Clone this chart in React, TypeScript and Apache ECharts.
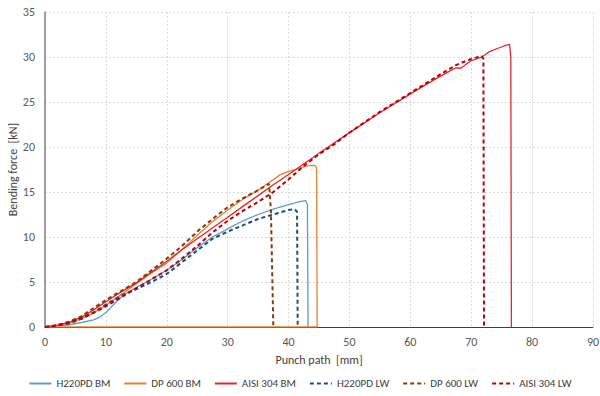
import React, { useEffect, useRef } from "react";
import * as echarts from "echarts";

// Punch path [mm] / bending force [kN] pairs
const h220pdBM: [number, number][] = [
  [0, 0], [2, 0.1], [4, 0.25], [6, 0.5], [8, 0.8], [9, 1.1], [10, 1.6], [11, 2.3], [12, 3.0],
  [13, 3.6], [15, 4.4], [17.5, 5.3], [20, 6.3], [22.5, 7.5], [25, 8.8], [27.5, 10.0], [30, 10.9],
  [32.5, 11.8], [35, 12.5], [37.5, 13.1], [40, 13.6], [42, 13.95], [42.8, 14.05], [43.1, 13.6], [43.2, 0],
];
const dp600BM: [number, number][] = [
  [0, 0], [2, 0.15], [4, 0.45], [6, 0.9], [8, 1.6], [10, 2.4], [12.5, 3.6], [15, 4.8], [17.5, 6.0],
  [20, 7.1], [22.5, 8.6], [25, 10.2], [27.5, 11.7], [30, 13.0], [32.5, 14.2], [35, 15.2], [36.7, 16.0],
  [38.6, 16.9], [40, 17.3], [41.7, 17.6], [43, 17.9], [44.3, 17.95], [44.6, 17.7], [44.7, 0], [0, 0],
];
const aisi304BM: [number, number][] = [
  [0, 0], [2, 0.2], [4, 0.55], [6, 1.1], [8, 1.9], [10, 2.8], [12.5, 3.9], [15, 4.9], [17.5, 6.1],
  [20, 7.3], [22.5, 8.6], [25, 9.8], [27.5, 11.0], [30, 12.2], [32.5, 13.4], [35, 14.6], [37.5, 15.8],
  [40, 16.95], [45, 19.3], [50, 21.6], [55, 23.8], [60, 25.9], [65, 27.9], [67.5, 28.8], [68.3, 28.75],
  [70, 29.6], [71.8, 30.0], [73, 30.6], [74.5, 31.0], [75.9, 31.35], [76.3, 31.4], [76.5, 30.0], [76.6, 0],
];
const h220pdLW: [number, number][] = [
  [0, 0], [2, 0.15], [4, 0.4], [6, 0.9], [8, 1.6], [10, 2.5], [12.5, 3.5], [15, 4.2], [17.5, 5.0],
  [20, 5.9], [22.5, 7.2], [25, 8.5], [27.5, 9.8], [30, 10.6], [32.5, 11.3], [35, 12.0], [37.5, 12.5],
  [40, 13.0], [41.0, 13.1], [41.4, 12.8], [41.5, 0],
];
const dp600LW: [number, number][] = [
  [0, 0], [2, 0.2], [4, 0.6], [6, 1.2], [8, 2.1], [10, 3.0], [12.5, 4.0], [15, 5.0], [17.5, 6.3],
  [20, 7.6], [22.5, 9.0], [25, 10.6], [27.5, 12.0], [30, 13.3], [32.5, 14.3], [35, 15.2], [36.8, 15.9],
  [37.1, 13.0], [37.5, 0],
];
const aisi304LW: [number, number][] = [
  [0, 0], [2, 0.2], [4, 0.5], [6, 1.0], [8, 1.6], [10, 2.3], [12.5, 3.3], [15, 4.3], [17.5, 5.3],
  [20, 6.3], [22.5, 7.6], [25, 9.0], [27.5, 10.5], [30, 11.8], [32.5, 12.9], [35, 13.9], [37.5, 15.0],
  [40, 16.4], [42.5, 17.9], [45, 19.2], [47.5, 20.3], [50, 21.6], [55, 23.9], [60, 26.0], [65, 28.1],
  [67.5, 29.1], [70, 29.8], [71.7, 30.1], [72.0, 29.8], [72.1, 0],
];

const seriesNames = ["H220PD BM", "DP 600 BM", "AISI 304 BM", "H220PD LW", "DP 600 LW", "AISI 304 LW"];
const seriesData = [h220pdBM, dp600BM, aisi304BM, h220pdLW, dp600LW, aisi304LW];
const seriesColors = ["#5B9BD5", "#ED7D31", "#E3262B", "#1F4E79", "#843C0C", "#C00000"];
const dashed = [false, false, false, true, true, true];

const FONT = "Carlito, Calibri, 'Liberation Sans', sans-serif";

export default function App() {
  const ref = useRef<HTMLDivElement>(null);
  useEffect(() => {
    if (!ref.current) return;
    const chart = echarts.init(ref.current, undefined, { renderer: "svg" });
    chart.setOption({
      animation: false,
      backgroundColor: "#ffffff",
      grid: { left: 45, right: 7, top: 12, bottom: 69, outerBoundsMode: "none", containLabel: false },
      xAxis: {
        type: "value",
        min: 0,
        max: 90,
        interval: 10,
        name: "Punch path  [mm]",
        nameLocation: "middle",
        nameGap: 27,
        nameMoveOverlap: false,
        nameTextStyle: { color: "#404040", fontSize: 12, fontFamily: FONT },
        axisLine: { show: true, onZero: false, lineStyle: { color: "#404040", width: 1 } },
        axisTick: { show: false },
        axisLabel: { color: "#595959", fontSize: 12, fontFamily: FONT, margin: 9 },
        splitLine: { show: true, lineStyle: { color: "#d9d9d9", type: [2, 2], width: 1 } },
      },
      yAxis: {
        type: "value",
        min: 0,
        max: 35,
        interval: 5,
        name: "Bending force  [kN]",
        nameLocation: "middle",
        nameGap: 26,
        nameMoveOverlap: false,
        nameTextStyle: { color: "#404040", fontSize: 12, fontFamily: FONT },
        axisLine: { show: true, lineStyle: { color: "#808080", width: 1.5 } },
        axisTick: { show: false },
        axisLabel: { color: "#595959", fontSize: 12, fontFamily: FONT, margin: 10 },
        splitLine: { show: true, lineStyle: { color: "#d9d9d9", type: [2, 2], width: 1 } },
      },
      legend: {
        top: 373,
        left: "center",
        itemWidth: 22,
        itemHeight: 10,
        itemGap: 13,
        itemStyle: { opacity: 0 },
        textStyle: { color: "#404040", fontSize: 11, fontFamily: FONT },
        data: seriesNames,
      },
      series: seriesNames.map((name, i) => ({
        name,
        type: "line",
        data: seriesData[i],
        symbol: "none",
        showSymbol: false,
        smooth: false,
        color: seriesColors[i],
        lineStyle: {
          color: seriesColors[i],
          width: dashed[i] ? 2 : 1.3,
          type: dashed[i] ? [4, 3] : "solid",
        },
        z: 2 + i,
      })),
    });
    return () => chart.dispose();
  }, []);
  return <div ref={ref} style={{ width: 600, height: 396, position: "absolute", left: 0, top: 0 }} />;
}
